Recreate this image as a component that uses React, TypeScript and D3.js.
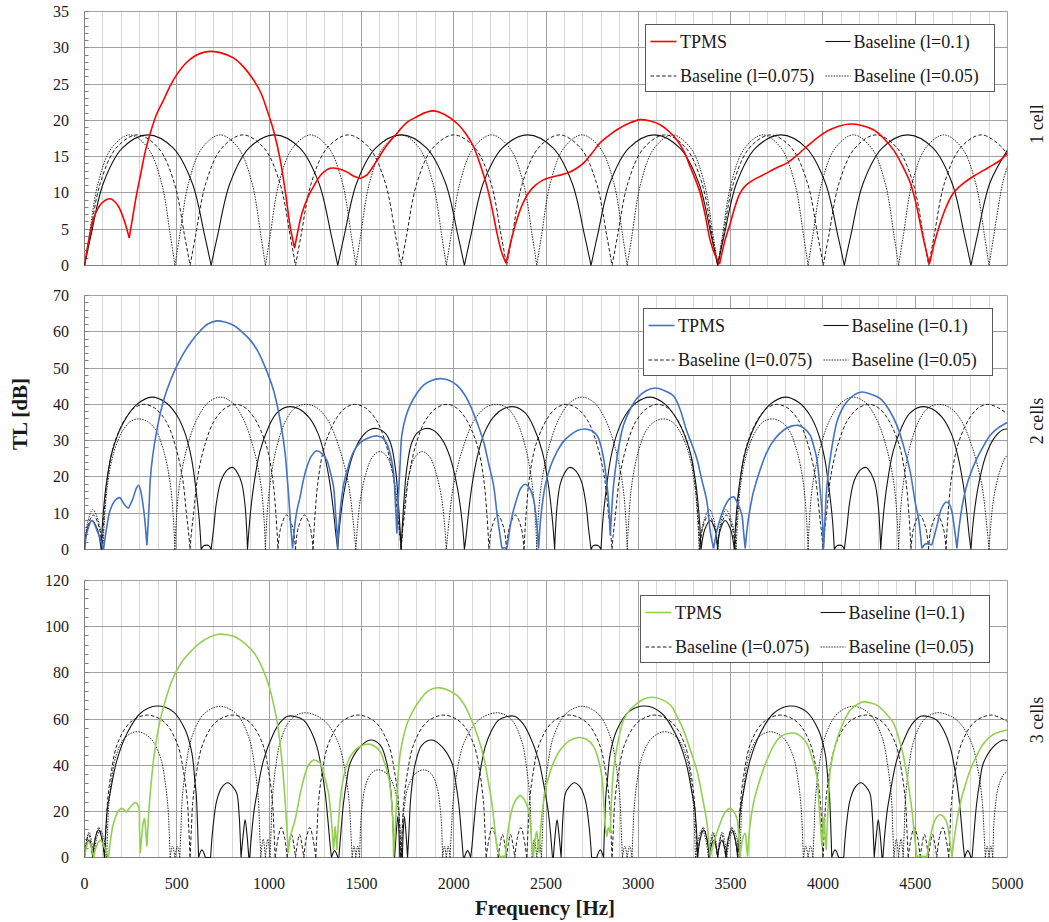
import React from 'react'
import * as d3 from 'd3'

type Pt = [number, number]

// ---------- values: [frequency (Hz), TL (dB)] ----------

// 1 cell
const tpms1: Pt[] = [
  [0,0],[20,3],[50,6.5],[90,8.5],[139,9.2],[180,8.3],[215,6.2],[242,3.8],[260,6.5],[280,9.5],[302,12.3],[330,15.8],
  [356,18.2],[390,20.8],[428,22.8],[465,24.8],[500,26.3],[550,27.9],[600,28.9],[650,29.4],[690,29.5],[740,29.3],
  [807,28.6],[860,27.4],[915,25.6],[955,23.8],[988,21.5],[1025,18.5],[1060,14.6],[1090,9.8],[1114,5.4],[1138,2.4],
  [1158,5],[1178,7.2],[1210,9.4],[1241,10.9],[1285,12.6],[1331,13.4],[1380,13.3],[1420,12.9],[1460,12.3],[1493,12.0],
  [1530,12.5],[1575,14.1],[1630,16.3],[1692,18.2],[1745,19.7],[1800,20.5],[1850,21.1],[1890,21.3],[1950,20.8],
  [2017,19.6],[2065,18.2],[2107,16.4],[2145,13.8],[2180,10.9],[2210,7.6],[2234,4.5],[2260,1.8],[2284,0.3],
  [2310,3.3],[2342,6.3],[2372,8.4],[2405,10.0],[2445,11.1],[2486,11.8],[2550,12.3],[2613,12.7],[2660,13.3],
  [2703,14.1],[2750,15.5],[2793,16.9],[2840,17.9],[2884,18.7],[2950,19.6],[3010,20.1],[3065,19.9],[3118,19.4],
  [3165,18.5],[3209,17.3],[3250,15.6],[3281,13.6],[3310,11.8],[3335,10.0],[3362,7.0],[3389,3.5],[3415,1.5],[3440,0.2],
  [3470,3.5],[3498,5.8],[3525,8.2],[3552,10.0],[3585,11.1],[3624,11.8],[3670,12.4],[3714,13.0],[3760,13.6],
  [3805,14.1],[3860,15.2],[3913,16.4],[3970,17.6],[4022,18.5],[4085,19.2],[4148,19.5],[4210,19.3],[4274,18.7],
  [4330,17.5],[4383,15.9],[4430,13.8],[4473,11.4],[4503,8.7],[4527,5.8],[4552,2.8],[4577,0.2],[4605,3.2],
  [4635,5.8],[4670,8.2],[4707,10.0],[4760,11.3],[4816,12.3],[4870,13.1],[4924,13.9],[4965,14.6],[5000,15.5],
]
const base1L010: Pt[] = [
  [0,0],[34,4],[103,11.4],[206,16.2],[343,18],[480,16.2],[583,11.4],[652,4],
  [686,0],[720,4],[789,11.4],[892,16.2],[1029,18],[1166,16.2],[1269,11.4],[1338,4],
  [1372,0],[1406,4],[1475,11.4],[1578,16.2],[1715,18],[1852,16.2],[1955,11.4],[2024,4],
  [2058,0],[2092,4],[2161,11.4],[2264,16.2],[2401,18],[2538,16.2],[2641,11.4],[2710,4],
  [2744,0],[2778,4],[2847,11.4],[2950,16.2],[3087,18],[3224,16.2],[3327,11.4],[3396,4],
  [3430,0],[3464,4],[3533,11.4],[3636,16.2],[3773,18],[3910,16.2],[4013,11.4],[4082,4],
  [4116,0],[4150,4],[4219,11.4],[4322,16.2],[4459,18],[4596,16.2],[4699,11.4],[4768,4],
  [4802,0],[4836,4],[4905,11.4],[5000,15.9],
]
const base1L0075: Pt[] = [
  [0,0],[29,4],[86,11.4],[172,16.2],[286,18],[400,16.2],[486,11.4],[543,4],
  [572,0],[601,4],[658,11.4],[744,16.2],[858,18],[972,16.2],[1058,11.4],[1115,4],
  [1143,0],[1172,4],[1229,11.4],[1315,16.2],[1429,18],[1543,16.2],[1629,11.4],[1686,4],
  [1715,0],[1744,4],[1801,11.4],[1887,16.2],[2001,18],[2115,16.2],[2201,11.4],[2258,4],
  [2287,0],[2316,4],[2373,11.4],[2459,16.2],[2573,18],[2687,16.2],[2773,11.4],[2830,4],
  [2858,0],[2887,4],[2944,11.4],[3030,16.2],[3144,18],[3258,16.2],[3344,11.4],[3401,4],
  [3430,0],[3459,4],[3516,11.4],[3602,16.2],[3716,18],[3830,16.2],[3916,11.4],[3973,4],
  [4002,0],[4031,4],[4088,11.4],[4174,16.2],[4288,18],[4402,16.2],[4488,11.4],[4545,4],
  [4573,0],[4602,4],[4659,11.4],[4745,16.2],[4859,18],[4973,16.2],[5000,15.1],
]
const base1L005: Pt[] = [
  [0,0],[25,4],[74,11.4],[147,16.2],[245,18],[343,16.2],[417,11.4],[466,4],
  [490,0],[515,4],[564,11.4],[637,16.2],[735,18],[833,16.2],[907,11.4],[956,4],
  [980,0],[1005,4],[1054,11.4],[1127,16.2],[1225,18],[1323,16.2],[1397,11.4],[1446,4],
  [1470,0],[1495,4],[1544,11.4],[1617,16.2],[1715,18],[1813,16.2],[1887,11.4],[1936,4],
  [1960,0],[1985,4],[2034,11.4],[2107,16.2],[2205,18],[2303,16.2],[2377,11.4],[2426,4],
  [2450,0],[2475,4],[2524,11.4],[2597,16.2],[2695,18],[2793,16.2],[2867,11.4],[2916,4],
  [2940,0],[2965,4],[3014,11.4],[3087,16.2],[3185,18],[3283,16.2],[3357,11.4],[3406,4],
  [3430,0],[3455,4],[3504,11.4],[3577,16.2],[3675,18],[3773,16.2],[3847,11.4],[3896,4],
  [3920,0],[3945,4],[3994,11.4],[4067,16.2],[4165,18],[4263,16.2],[4337,11.4],[4386,4],
  [4410,0],[4435,4],[4484,11.4],[4557,16.2],[4655,18],[4753,16.2],[4827,11.4],[4876,4],
  [4900,0],[4925,4],[4974,11.4],[5000,13.7],
]

// 2 cells
const tpms2: Pt[] = [
  [0,0],[15,5],[40,8],[70,5],[103,0],[120,6],[139,10.8],[165,13.5],[190,14.3],[215,12.5],[238,11.3],[262,14],
  [280,16.8],[293,17.7],[305,16],[323,9.9],[338,1.2],[350,12],[356,19.1],[370,26],[392,32.9],[420,39.5],[446,43.9],
  [490,49.5],[536,54],[580,57.4],[627,60.3],[670,62.2],[717,63],[760,62.7],[807,61.8],[850,60.1],[898,57.7],[935,55],
  [970,51.3],[1000,47.5],[1024,43.9],[1045,39.5],[1060,35.6],[1075,31],[1087,26.5],[1097,20.5],[1105,15.4],[1115,8],
  [1127,0.3],[1140,7],[1150,10.5],[1168,14.5],[1185,19],[1205,22.8],[1230,25.8],[1259,27.2],[1285,26.5],[1313,24.6],
  [1333,21],[1349,17.3],[1360,10],[1367,5.3],[1371,0.3],[1380,8],[1403,17.7],[1430,23],[1457,26.9],[1490,29.3],
  [1530,30.6],[1584,31.3],[1615,30.8],[1638,29.2],[1660,25.5],[1674,21.4],[1685,12],[1692,4.4],[1700,14],[1710,24],
  [1719,31.5],[1740,36.5],[1764,39.8],[1800,43],[1837,45.3],[1880,46.6],[1927,47.1],[1970,46.7],[2017,45.3],[2055,43],
  [2089,39.8],[2130,34.5],[2162,29.7],[2190,23.5],[2216,17.7],[2232,11],[2243,6.7],[2261,0.3],[2275,0.5],[2288,0.3],
  [2305,6],[2320,10],[2342,14],[2365,17],[2387,18],[2410,17],[2432,14],[2450,7],[2460,0.3],[2470,8],[2480,12.5],
  [2496,17.7],[2525,23],[2559,26.9],[2595,29.8],[2631,31.5],[2670,32.8],[2712,33.2],[2745,32.8],[2776,31.5],[2800,28],
  [2812,25.1],[2828,19],[2839,13.1],[2848,3.9],[2855,10],[2866,17.7],[2890,27],[2920,34.3],[2955,38.5],[2992,41.6],
  [3040,43.7],[3092,44.5],[3140,43.8],[3191,42.3],[3227,38.5],[3260,33],[3290,29],[3317,25.1],[3345,19],[3372,13.1],
  [3390,4.9],[3408,0.3],[3425,5],[3444,8.5],[3470,12],[3495,14],[3516,14.5],[3540,12.5],[3561,9.5],[3570,5],[3579,0.3],
  [3595,8],[3610,12.5],[3624,15.9],[3660,22],[3697,26.9],[3740,30.5],[3790,33],[3830,34],[3868,34.2],[3900,33.3],
  [3931,31.5],[3950,28.5],[3967,25.1],[3982,18],[3995,10.4],[4004,0.3],[4012,9],[4022,17.7],[4045,27],[4076,35.2],
  [4100,38.3],[4130,40.7],[4170,42.6],[4211,43.4],[4260,42.8],[4311,41.6],[4355,38.8],[4401,34.2],[4440,28],[4473,21.4],
  [4500,13],[4518,8.5],[4536,0.3],[4555,1.5],[4572,1.6],[4590,1.2],[4605,4],[4620,7],[4636,10.4],[4655,12.5],
  [4672,13.1],[4685,12.5],[4699,10.4],[4712,6],[4726,0.3],[4740,7],[4762,14],[4790,19.5],[4834,25.1],[4870,28.5],
  [4906,31.5],[4950,33.5],[5000,35],
]
const base2L010: Pt[] = [
  [0,0],[12,5],[40,8],[70,5.5],[90,0],[100,9],[118,18],[150,27],[211,35],[284,40],[365,42],[440,40.5],[500,37],
  [545,32],[580,25],[605,16],[622,8],[632,0],[645,1],[660,1.2],[675,1],[686,0],[700,6],[715,13],[740,19],[775,22],
  [804,22.6],[830,21],[853,18],[870,12],[879,5],[883,0],[895,8],[915,17],[950,27],[995,33.5],[1040,37.5],[1100,39.3],
  [1160,38.8],[1215,36.5],[1265,32],[1300,26],[1330,18],[1350,10],[1362,4],[1372,0],[1385,8],[1410,17],[1450,25.5],
  [1495,30.5],[1545,33],[1590,33.3],[1630,32],[1660,29],[1685,22],[1700,13],[1710,5],[1715,0],[1720,5],[1730,13],
  [1745,22],[1770,29],[1800,32],[1840,33.3],[1885,33],[1935,30.5],[1980,25.5],[2020,17],[2045,8],[2058,0],[2068,4],
  [2080,10],[2100,18],[2130,26],[2165,32],[2215,36.5],[2270,38.8],[2330,39.3],[2390,37.5],[2435,33.5],[2480,27],
  [2515,17],[2535,8],[2547,0],[2551,5],[2560,12],[2577,18],[2600,21],[2626,22.6],[2655,22],[2690,19],[2715,13],
  [2730,6],[2744,0],[2755,1],[2770,1.2],[2785,1],[2798,0],[2808,8],[2825,16],[2850,25],[2885,32],[2930,37],
  [2990,40.5],[3065,42],[3146,40],[3219,35],[3280,27],[3312,18],[3330,9],[3340,0],[3360,5.5],[3390,8],[3418,5],
  [3430,0],[3442,5],[3470,8],[3500,5.5],[3520,0],[3530,9],[3548,18],[3580,27],[3641,35],[3714,40],[3795,42],
  [3870,40.5],[3930,37],[3975,32],[4010,25],[4035,16],[4052,8],[4062,0],[4075,1],[4090,1.2],[4105,1],[4116,0],
  [4130,6],[4145,13],[4170,19],[4205,22],[4234,22.6],[4260,21],[4283,18],[4300,12],[4309,5],[4313,0],[4325,8],
  [4345,17],[4380,27],[4425,33.5],[4470,37.5],[4530,39.3],[4590,38.8],[4645,36.5],[4695,32],[4730,26],[4760,18],
  [4780,10],[4792,4],[4802,0],[4815,8],[4840,17],[4880,25.5],[4925,30.5],[4975,33],[5000,33.2],
]
const base2L0075: Pt[] = [
  [0,0],[15,6],[48,9.5],[80,6],[95,0],[105,9],[125,20],[160,29],[220,36],[270,39],[320,40],[380,39],[440,35.5],
  [490,29],[530,20],[552,10],[565,4],[572,0],[578,4],[591,10],[613,20],[653,29],[703,35.5],[763,39],[823,40],
  [873,39],[923,36],[983,29],[1018,20],[1038,9],[1048,0],[1063,6],[1095,9.5],[1128,6],[1143,0],
  [1158,6],[1191,9.5],[1223,6],[1238,0],[1248,9],[1268,20],[1303,29],[1363,36],[1413,39],[1463,40],[1523,39],
  [1583,35.5],[1633,29],[1673,20],[1695,10],[1708,4],[1715,0],[1721,4],[1734,10],[1756,20],[1796,29],[1846,35.5],
  [1906,39],[1966,40],[2016,39],[2066,36],[2126,29],[2161,20],[2181,9],[2191,0],[2206,6],[2238,9.5],[2271,6],[2286,0],
  [2301,6],[2334,9.5],[2366,6],[2381,0],[2391,9],[2411,20],[2446,29],[2506,36],[2556,39],[2606,40],[2666,39],
  [2726,35.5],[2776,29],[2816,20],[2838,10],[2851,4],[2858,0],[2864,4],[2877,10],[2899,20],[2939,29],[2989,35.5],
  [3049,39],[3109,40],[3159,39],[3209,36],[3269,29],[3304,20],[3324,9],[3334,0],[3349,6],[3381,9.5],[3414,6],[3429,0],
  [3444,6],[3477,9.5],[3509,6],[3524,0],[3534,9],[3554,20],[3589,29],[3649,36],[3699,39],[3749,40],[3809,39],
  [3869,35.5],[3919,29],[3959,20],[3981,10],[3994,4],[4001,0],[4007,4],[4020,10],[4042,20],[4082,29],[4132,35.5],
  [4192,39],[4252,40],[4302,39],[4352,36],[4412,29],[4447,20],[4467,9],[4477,0],[4492,6],[4524,9.5],[4557,6],[4572,0],
  [4587,6],[4620,9.5],[4652,6],[4667,0],[4677,9],[4697,20],[4732,29],[4792,36],[4842,39],[4892,40],[4952,39],[5000,37.3],
]
const base2L005: Pt[] = [
  [0,0],[15,7],[45,11],[80,7],[100,0],[108,8],[125,18],[160,27],[210,33],[250,35.3],[293,36],[340,35.3],[385,33],
  [430,27],[465,18],[482,8],[490,0],[497,8],[515,18],[555,28],[610,36],[670,40.5],[735,42],[800,40.5],[860,36],
  [915,28],[955,18],[973,8],[980,0],[987,8],[1005,18],[1040,28],[1090,35.5],[1140,39],[1200,40],[1260,39],[1320,35.5],
  [1380,28],[1430,18],[1455,8],[1470,0],[1478,6],[1495,14],[1525,21],[1560,25.5],[1600,27],[1640,25.5],[1670,21],
  [1695,13],[1708,5],[1715,0],[1722,5],[1735,13],[1760,21],[1790,25.5],[1830,27],[1870,25.5],[1905,21],[1935,14],
  [1952,6],[1960,0],[1975,8],[2000,18],[2050,28],[2110,35.5],[2170,39],[2230,40],[2290,39],[2340,35.5],[2390,28],
  [2425,18],[2443,8],[2450,0],[2457,8],[2475,18],[2515,28],[2570,36],[2630,40.5],[2695,42],[2760,40.5],[2820,36],
  [2875,28],[2915,18],[2933,8],[2940,0],[2948,8],[2965,18],[3000,27],[3045,33],[3090,35.3],[3137,36],[3180,35.3],
  [3220,33],[3270,27],[3305,18],[3322,8],[3330,0],[3350,7],[3385,11],[3415,7],[3430,0],[3445,7],[3475,11],[3510,7],
  [3530,0],[3538,8],[3555,18],[3590,27],[3640,33],[3680,35.3],[3723,36],[3770,35.3],[3815,33],[3860,27],[3895,18],
  [3912,8],[3920,0],[3927,8],[3945,18],[3985,28],[4040,36],[4100,40.5],[4165,42],[4230,40.5],[4290,36],[4345,28],
  [4385,18],[4403,8],[4410,0],[4417,8],[4435,18],[4470,28],[4520,35.5],[4570,39],[4630,40],[4690,39],[4750,35.5],
  [4810,28],[4860,18],[4885,8],[4900,0],[4908,6],[4925,14],[4955,21],[4990,25.5],[5000,26],
]

// 3 cells
const tpms3: Pt[] = [
  [0,0],[12,5],[22,6.9],[35,5],[50,0],[65,5],[85,7.5],[110,4],[130,0],[140,7],[157,14.8],[184,20.3],[202,21.3],
  [215,20.5],[226,19.6],[250,22],[275,23.8],[293,22],[298,12],[302,1.9],[310,9],[318,15],[325,17],[332,11],[338,4.8],
  [347,18],[356,27.8],[374,42.2],[390,51],[410,59.5],[445,70],[482,78.2],[525,84.5],[573,89],[620,92.6],[663,94.9],
  [726,96.7],[770,96.5],[807,95.8],[845,94.2],[880,91.9],[920,88.5],[952,84],[980,78.8],[1006,72.5],[1025,66],
  [1042,59.5],[1057,51],[1069,42.2],[1081,31],[1091,19.2],[1099,9],[1105,1.9],[1112,8],[1125,12],[1141,16.3],
  [1160,24],[1177,30.7],[1205,38.6],[1222,41],[1241,42.2],[1260,41.8],[1277,40.8],[1300,35],[1322,27.8],[1333,20],
  [1340,13.4],[1349,3.3],[1355,10],[1358,13.4],[1363,8],[1367,3.3],[1380,20],[1394,30.7],[1415,38.5],[1439,43.7],
  [1490,48],[1539,49.1],[1570,48.3],[1602,45.8],[1625,41],[1647,35],[1660,27],[1670,16.3],[1674,0.4],[1685,15],
  [1693,28],[1701,37.9],[1712,46],[1728,52.3],[1750,58.5],[1782,63.8],[1815,68],[1855,71.8],[1890,73.2],[1927,73.5],
  [1970,72.5],[2017,70.3],[2055,66.5],[2089,61],[2130,52.5],[2162,43.7],[2187,33],[2207,23.5],[2222,13],[2234,4.8],
  [2252,0.2],[2265,0.5],[2279,0.4],[2295,12],[2315,20.6],[2337,25],[2360,26.8],[2383,25],[2405,20.6],[2418,12],
  [2424,4.8],[2432,0.4],[2441,8],[2450,11.3],[2456,5],[2462,2],[2475,16],[2490,26],[2505,32.1],[2540,41],[2577,46.6],
  [2625,50.5],[2676,52],[2720,51.2],[2758,48],[2785,42],[2803,35],[2813,24],[2821,13.4],[2830,9.1],[2838,13],
  [2848,10.5],[2857,28],[2866,37.9],[2890,50],[2920,59.5],[2955,64],[2992,66.7],[3030,68.7],[3073,69.4],[3125,68.5],
  [3173,66.2],[3210,61],[3245,55.2],[3280,47],[3317,37.9],[3345,27],[3372,14.9],[3383,6],[3390,0.4],[3415,8],
  [3444,14.9],[3470,19.5],[3498,21.3],[3515,20],[3534,17],[3545,8],[3552,0.4],[3565,8],[3579,10.5],[3586,5],
  [3592,0.4],[3605,14],[3624,23.5],[3660,34],[3697,42.2],[3733,48.5],[3769,52.3],[3810,53.7],[3850,53.8],[3880,52.5],
  [3913,49.4],[3942,43],[3967,35],[3978,24],[3986,14.9],[3995,4.8],[4002,12],[4007,17.7],[4012,9],[4018,3.3],
  [4028,22],[4040,37.9],[4065,48],[4094,55.2],[4120,60],[4148,63.8],[4185,66.3],[4220,67.4],[4255,67],[4293,66],
  [4340,62.5],[4383,58.1],[4410,52],[4437,43.7],[4460,33],[4482,20.6],[4497,9],[4509,0.4],[4535,0.5],[4563,0.4],
  [4580,8],[4600,14.9],[4620,17.8],[4639,18.5],[4655,17.5],[4672,14.9],[4688,7],[4699,0.4],[4720,13],[4744,23.5],
  [4770,31],[4798,37.9],[4835,44.5],[4870,49.4],[4905,52.3],[4943,54],[4975,54.8],[5000,55.2],
]
const base3L010: Pt[] = [
  [0,0],[10,5],[22,7.5],[35,5],[45,0],[55,7],[75,12],[95,8],[108,0],[115,12],[125,22],[139,28],[175,42],[230,53.7],
  [302,62.4],[392,65.6],[482,63.1],[546,55.2],[582,45.1],[598,33],[605,27.8],[612,15],[618,0],[636,3.3],[655,0],
  [683,0],[690,8],[700,16],[717,24.9],[745,30.5],[777,32.4],[805,30.5],[825,27.8],[838,18],[844,8],[848,0],[860,10],
  [870,16.3],[880,10],[890,0],[895,0],[905,10],[918,20],[934,27.8],[970,42.2],[1024,53.7],[1060,58.5],[1100,61.2],
  [1145,61],[1187,59.5],[1225,55],[1259,48],[1285,38],[1304,27.8],[1320,15],[1331,5],[1338,0],[1355,3],[1372,0],
  [1378,0],[1388,10],[1403,23.5],[1420,33],[1439,40.8],[1494,48],[1548,50.9],[1602,48.7],[1638,40.8],[1655,32],
  [1665,23.5],[1673,10],[1680,0],[1688,10],[1697,17.7],[1704,10],[1708,0],[1715,2],[1722,0],[1726,10],[1733,17.7],
  [1742,10],[1750,0],[1757,10],[1765,23.5],[1775,32],[1792,40.8],[1828,48.7],[1882,50.9],[1936,48],[1991,40.8],
  [2010,33],[2027,23.5],[2042,10],[2052,0],[2058,0],[2075,3],[2092,0],[2099,5],[2110,15],[2126,27.8],[2145,38],
  [2171,48],[2205,55],[2243,59.5],[2285,61],[2330,61.2],[2370,58.5],[2406,53.7],[2460,42.2],[2496,27.8],[2512,20],
  [2525,10],[2535,0],[2540,0],[2550,10],[2560,16.3],[2570,10],[2582,0],[2586,8],[2592,18],[2605,27.8],[2625,30.5],
  [2653,32.4],[2685,30.5],[2713,24.9],[2730,16],[2740,8],[2747,0],[2775,0],[2794,3.3],[2812,0],[2818,15],[2825,27.8],
  [2832,33],[2848,45.1],[2884,55.2],[2948,63.1],[3038,65.6],[3128,62.4],[3200,53.7],[3255,42.2],[3291,28],[3305,22],
  [3315,12],[3322,0],[3335,8],[3355,12],[3375,7],[3385,0],[3395,5],[3408,7.5],[3420,5],[3430,0],
  [3440,5],[3452,7.5],[3465,5],[3475,0],[3485,7],[3505,12],[3525,8],[3538,0],[3545,12],[3555,22],[3569,28],[3605,42],
  [3660,53.7],[3732,62.4],[3822,65.6],[3912,63.1],[3976,55.2],[4012,45.1],[4028,33],[4035,27.8],[4042,15],[4048,0],
  [4066,3.3],[4085,0],[4113,0],[4120,8],[4130,16],[4147,24.9],[4175,30.5],[4207,32.4],[4235,30.5],[4255,27.8],
  [4268,18],[4274,8],[4278,0],[4290,10],[4300,16.3],[4310,10],[4320,0],[4325,0],[4335,10],[4348,20],[4364,27.8],
  [4400,42.2],[4454,53.7],[4490,58.5],[4530,61.2],[4575,61],[4617,59.5],[4655,55],[4689,48],[4715,38],[4734,27.8],
  [4750,15],[4761,5],[4768,0],[4785,3],[4802,0],[4808,0],[4818,10],[4833,23.5],[4850,33],[4869,40.8],[4924,48],
  [4978,50.9],[5000,50.5],
]
const base3L0075: Pt[] = [
  [0,0],[10,6],[22,10],[34,6],[45,0],[60,9],[78,13],[95,8],[110,0],[117,12.3],[124,23.4],[145,37],[179,49.4],
  [248,58.6],[340,61.7],[433,58.6],[502,49.4],[537,37],[558,23.4],[565,12.3],[572,0],[579,12.3],[586,23.4],[607,37],
  [642,49.4],[711,58.6],[803,61.7],[895,58.6],[964,49.4],[998,37],[1019,23.4],[1026,12.3],[1033,0],[1048,8],[1065,13],
  [1083,9],[1098,0],[1109,6],[1121,10],[1133,6],[1143,0],
  [1153,6],[1165,10],[1177,6],[1188,0],[1203,9],[1221,13],[1238,8],[1253,0],[1260,12.3],[1267,23.4],[1288,37],
  [1322,49.4],[1391,58.6],[1483,61.7],[1576,58.6],[1645,49.4],[1680,37],[1701,23.4],[1708,12.3],[1715,0],[1722,12.3],
  [1729,23.4],[1750,37],[1785,49.4],[1854,58.6],[1946,61.7],[2038,58.6],[2107,49.4],[2141,37],[2162,23.4],[2169,12.3],
  [2176,0],[2191,8],[2208,13],[2226,9],[2241,0],[2252,6],[2264,10],[2276,6],[2286,0],
  [2296,6],[2308,10],[2320,6],[2331,0],[2346,9],[2364,13],[2381,8],[2396,0],[2403,12.3],[2410,23.4],[2431,37],
  [2465,49.4],[2534,58.6],[2626,61.7],[2719,58.6],[2788,49.4],[2823,37],[2844,23.4],[2851,12.3],[2858,0],[2865,12.3],
  [2872,23.4],[2893,37],[2928,49.4],[2997,58.6],[3089,61.7],[3181,58.6],[3250,49.4],[3284,37],[3305,23.4],[3312,12.3],
  [3319,0],[3334,8],[3351,13],[3369,9],[3384,0],[3395,6],[3407,10],[3419,6],[3429,0],
  [3439,6],[3451,10],[3463,6],[3474,0],[3489,9],[3507,13],[3524,8],[3539,0],[3546,12.3],[3553,23.4],[3574,37],
  [3608,49.4],[3677,58.6],[3769,61.7],[3862,58.6],[3931,49.4],[3966,37],[3987,23.4],[3994,12.3],[4001,0],[4008,12.3],
  [4015,23.4],[4036,37],[4071,49.4],[4140,58.6],[4232,61.7],[4324,58.6],[4393,49.4],[4427,37],[4448,23.4],[4455,12.3],
  [4462,0],[4477,8],[4494,13],[4512,9],[4527,0],[4538,6],[4550,10],[4562,6],[4572,0],
  [4582,6],[4594,10],[4606,6],[4617,0],[4632,9],[4650,13],[4667,8],[4682,0],[4689,12.3],[4696,23.4],[4717,37],
  [4751,49.4],[4820,58.6],[4912,61.7],[5000,58.9],
]
const base3L005: Pt[] = [
  [0,0],[10,7],[25,11],[38,7],[50,0],[65,8],[85,12],[105,8],[120,0],[125,10.9],[130,20.7],[145,32.7],[169,43.6],
  [218,51.8],[284,54.5],[356,51.8],[410,43.6],[437,32.7],[453,20.7],[459,10.9],[464,0],[477,5],[490,0],[503,5],
  [516,0],[523,13.1],[529,24.9],[549,39.3],[582,52.4],[647,62.2],[735,65.5],[823,62.2],[889,52.4],[922,39.3],
  [942,24.9],[948,13.1],[955,0],[968,8],[980,0],[993,8],[1005,0],[1011,12.5],[1016,23.8],[1033,37.6],[1061,50.2],
  [1116,59.6],[1190,62.7],[1294,59.6],[1372,50.2],[1411,37.6],[1434,23.8],[1442,12.5],[1450,0],[1460,5],[1470,0],
  [1480,5],[1490,0],[1493,7.6],[1496,14.4],[1505,22.8],[1520,30.4],[1550,36.1],[1590,38],[1640,36.1],[1678,30.4],
  [1696,22.8],[1708,14.4],[1711,7.6],[1715,0],[1719,7.6],[1722,14.4],[1734,22.8],[1752,30.4],[1790,36.1],[1840,38],
  [1880,36.1],[1910,30.4],[1925,22.8],[1934,14.4],[1937,7.6],[1940,0],[1950,5],[1960,0],[1970,5],[1980,0],[1988,12.5],
  [1996,23.8],[2019,37.6],[2058,50.2],[2136,59.6],[2240,62.7],[2314,59.6],[2369,50.2],[2397,37.6],[2414,23.8],
  [2419,12.5],[2425,0],[2437,8],[2450,0],[2462,8],[2475,0],[2482,13.1],[2488,24.9],[2508,39.3],[2541,52.4],
  [2607,62.2],[2695,65.5],[2783,62.2],[2848,52.4],[2881,39.3],[2901,24.9],[2907,13.1],[2914,0],[2927,5],[2940,0],
  [2953,5],[2966,0],[2971,10.9],[2977,20.7],[2993,32.7],[3020,43.6],[3074,51.8],[3146,54.5],[3212,51.8],[3261,43.6],
  [3285,32.7],[3300,20.7],[3305,10.9],[3310,0],[3325,8],[3345,12],[3365,8],[3380,0],[3392,7],[3405,11],[3420,7],
  [3430,0],[3440,7],[3455,11],[3468,7],[3480,0],[3495,8],[3515,12],[3535,8],[3550,0],[3555,10.9],[3560,20.7],
  [3575,32.7],[3599,43.6],[3648,51.8],[3714,54.5],[3786,51.8],[3840,43.6],[3867,32.7],[3883,20.7],[3889,10.9],
  [3894,0],[3907,5],[3920,0],[3933,5],[3946,0],[3953,13.1],[3959,24.9],[3979,39.3],[4012,52.4],[4077,62.2],
  [4165,65.5],[4253,62.2],[4319,52.4],[4352,39.3],[4372,24.9],[4378,13.1],[4385,0],[4398,8],[4410,0],[4423,8],
  [4435,0],[4441,12.5],[4446,23.8],[4463,37.6],[4491,50.2],[4546,59.6],[4620,62.7],[4724,59.6],[4802,50.2],
  [4841,37.6],[4864,23.8],[4872,12.5],[4880,0],[4890,5],[4900,0],[4910,5],[4920,0],[4923,7.6],[4926,14.4],
  [4935,22.8],[4950,30.4],[4980,36.1],[5000,37.2],
]

const freqTicks = [0, 500, 1000, 1500, 2000, 2500, 3000, 3500, 4000, 4500, 5000]
const seriesNames = ['TPMS', 'Baseline (l=0.1)', 'Baseline (l=0.075)', 'Baseline (l=0.05)']
const panelNames = ['1 cell', '2 cells', '3 cells']
const tpmsColors = ['#ff0000', '#4472c4', '#92d050']
const yMaxes = [35, 70, 120]
const yMajor = [5, 10, 20]
const yMinor = [1, 2, 4]

const curveSets: Pt[][][] = [
  [tpms1, base1L010, base1L0075, base1L005],
  [tpms2, base2L010, base2L0075, base2L005],
  [tpms3, base3L010, base3L0075, base3L005],
]

// layout
const X0 = 84.5
const X1 = 1007.5
const frames = [
  { top: 11.5, bottom: 265.5, lx: 645.5, ly: 24.5, labelY: 124 },
  { top: 295.5, bottom: 549.5, lx: 643.5, ly: 308.5, labelY: 421 },
  { top: 580.5, bottom: 857.5, lx: 640.5, ly: 595.5, labelY: 720 },
]
const FONT = 'Liberation Serif, Times New Roman, serif'
const TXT = '#1a1a1a'

// split a trace at its local minima so the notches stay sharp
function splitAtMinima(pts: Pt[]): Pt[][] {
  const segs: Pt[][] = []
  let cur: Pt[] = [pts[0]]
  for (let i = 1; i < pts.length; i++) {
    cur.push(pts[i])
    const last = i === pts.length - 1
    if (!last && pts[i][1] <= pts[i - 1][1] && pts[i][1] <= pts[i + 1][1]) {
      segs.push(cur)
      cur = [pts[i]]
    }
  }
  if (cur.length > 1) segs.push(cur)
  return segs
}

const styles = [
  { stroke: '', width: 1.6, dash: undefined as string | undefined },
  { stroke: '#141414', width: 1.1, dash: undefined },
  { stroke: '#1e1e1e', width: 1, dash: '3.6 2.2' },
  { stroke: '#2a2a2a', width: 1, dash: '1.5 1.2' },
]

const snap = (v: number) => Math.round(v - 0.5) + 0.5

function Panel({ i, x }: { i: number; x: d3.ScaleLinear<number, number> }) {
  const fr = frames[i]
  const y = d3.scaleLinear().domain([0, yMaxes[i]]).range([fr.bottom, fr.top])
  const line = d3.line<Pt>()
    .x(d => x(d[0]))
    .y(d => y(d[1]))
    .curve(d3.curveCatmullRom.alpha(0.5))
  const pathOf = (pts: Pt[]) => splitAtMinima(pts).map(s => line(s) || '').join('')

  const majors = d3.range(0, yMaxes[i] + 0.001, yMajor[i])
  const minors = d3.range(0, yMaxes[i] + 0.001, yMinor[i])
  const vgrid = d3.range(100, 5001, 100)
  const clipId = `clip-${i}`
  const sets = curveSets[i]
  const order = [3, 2, 1, 0]

  return (
    <g>
      <defs>
        <clipPath id={clipId}>
          <rect x={X0} y={fr.top - 2} width={X1 - X0} height={fr.bottom - fr.top + 3} />
        </clipPath>
      </defs>
      {vgrid.map(f => (
        <line key={`v${f}`} x1={snap(x(f))} x2={snap(x(f))} y1={fr.top} y2={fr.bottom}
          stroke={f % 500 === 0 ? '#a0a0a0' : '#d6d6d6'} strokeWidth={1} />
      ))}
      {majors.filter(v => v > 0).map(v => (
        <line key={`h${v}`} x1={X0} x2={X1} y1={snap(y(v))} y2={snap(y(v))} stroke="#a0a0a0" strokeWidth={1} />
      ))}
      <line x1={X0} x2={X0} y1={fr.top} y2={fr.bottom} stroke="#808080" />
      <line x1={X0} x2={X1} y1={snap(y(0))} y2={snap(y(0))} stroke="#808080" />
      {minors.map(v => (
        <line key={`t${v}`} x1={X0} x2={X0 + 4} y1={snap(y(v))} y2={snap(y(v))} stroke="#808080" />
      ))}
      {majors.map(v => (
        <text key={`l${v}`} x={69} y={y(v) + 5.5} textAnchor="end" fontSize={16} fontFamily={FONT} fill={TXT}>{v}</text>
      ))}

      <g clipPath={`url(#${clipId})`} fill="none" strokeLinejoin="round">
        {order.map(k => (
          <path key={k} d={pathOf(sets[k])}
            stroke={k === 0 ? tpmsColors[i] : styles[k].stroke}
            strokeWidth={styles[k].width}
            strokeDasharray={styles[k].dash} />
        ))}
      </g>

      <g transform={`translate(${fr.lx},${fr.ly})`} fontSize={18} fontFamily={FONT} fill={TXT}>
        <rect x={0} y={0} width={349} height={67} fill="#fff" stroke="#5a5a5a" />
        <line x1={5} x2={31} y1={17} y2={17} stroke={tpmsColors[i]} strokeWidth={1.6} />
        <text x={34.5} y={23}>{seriesNames[0]}</text>
        <line x1={180} x2={205} y1={17} y2={17} stroke={styles[1].stroke} strokeWidth={1.1} />
        <text x={208} y={23}>{seriesNames[1]}</text>
        <line x1={5} x2={31} y1={51.5} y2={51.5} stroke={styles[2].stroke} strokeDasharray={styles[2].dash} />
        <text x={34.5} y={57}>{seriesNames[2]}</text>
        <line x1={180} x2={205} y1={51.5} y2={51.5} stroke={styles[3].stroke} strokeDasharray={styles[3].dash} />
        <text x={208} y={57}>{seriesNames[3]}</text>
      </g>

      <text transform={`translate(1043,${fr.labelY}) rotate(-90)`} textAnchor="middle" fontSize={18}
        fontFamily={FONT} fill={TXT}>
        {panelNames[i]}
      </text>
    </g>
  )
}

export default function App() {
  const x = d3.scaleLinear().domain([0, 5000]).range([X0, X1])
  return (
    <div style={{ position: 'absolute', left: 0, top: 0 }}>
      <svg width={1049} height={922} style={{ display: 'block', background: '#fff' }} fontFamily={FONT}>
        {[0, 1, 2].map(i => <Panel key={i} i={i} x={x} />)}
        {freqTicks.map(f => (
          <text key={f} x={x(f)} y={889} textAnchor="middle" fontSize={16} fontFamily={FONT} fill={TXT}>{f}</text>
        ))}
        <text x={545} y={915} textAnchor="middle" fontSize={21} fontWeight="bold" fontFamily={FONT} fill={TXT}>
          Frequency [Hz]
        </text>
        <text transform="translate(27,414) rotate(-90)" textAnchor="middle" fontSize={21} fontWeight="bold"
          fontFamily={FONT} fill={TXT}>
          TL [dB]
        </text>
      </svg>
    </div>
  )
}
